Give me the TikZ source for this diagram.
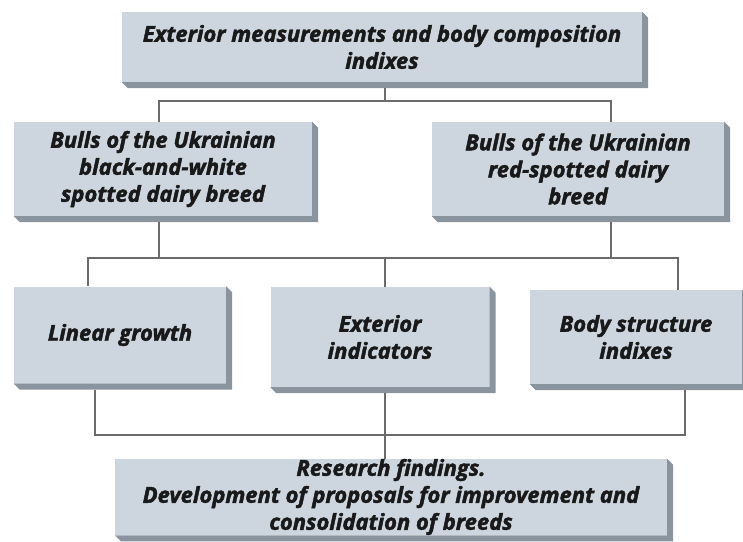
\documentclass[tikz,border=0pt]{standalone}
\usepackage{fontspec}
\setmainfont{Open Sans}[BoldItalicFeatures={FakeBold=2}]
\usetikzlibrary{calc}
\definecolor{boxfill}{HTML}{CDD6DF}
\definecolor{boxedge}{HTML}{8A949E}
\definecolor{connc}{HTML}{6B6B6B}
\begin{document}
\begin{tikzpicture}[x=1pt,y=-1pt,
  bx/.style={fill=boxfill,inner sep=0pt,align=center,text=black!90,font=\fontsize{22}{27}\selectfont\bfseries\itshape},
  conn/.style={draw=connc,line width=2.4pt},
  edgefill/.style={fill=boxedge}]
\useasboundingbox (0,0) rectangle (743,541);
\node[bx,minimum width=520,minimum height=70] (top) at (382,47) {Exterior measurements and body composition\\indixes};
\node[bx,minimum width=298,minimum height=94] (bl) at (163,169) {Bulls of the Ukrainian\\black-and-white\\spotted dairy breed};
\node[bx,minimum width=292,minimum height=94] (br) at (578,169) {Bulls of the Ukrainian\\red-spotted dairy\\breed};
\node[bx,minimum width=212,minimum height=97] (lg) at (120,335) {Linear growth};
\node[bx,minimum width=219,minimum height=100] (ei) at (380,337) {Exterior\\indicators};
\node[bx,minimum width=212,minimum height=94] (bs) at (636,337) {Body structure\\indixes};
\node[bx,minimum width=552,minimum height=70] (rf) at (391,497) {Research findings.\\Development of proposals for improvement and\\consolidation of breeds};
\foreach \n in {top,bl,br,lg,ei,bs,rf}{
  \fill[edgefill] (\n.north east) -- ++(6,6) -- ($(\n.south east)+(6,6)$) -- ($(\n.south west)+(6,6)$) -- (\n.south west) -- (\n.south east) -- cycle;
}
% level 1
\coordinate (j1) at (385,101);
\coordinate (a1) at (159,101);
\coordinate (a2) at (611,101);
\draw[conn] ($(top.south)+(3,6)$) -- (j1);
\draw[conn] (bl.north -| a1) -- (a1) -- (a2) -- (br.north -| a2);
% level 2
\coordinate (k1) at (159,258);
\coordinate (k2) at (611,258);
\coordinate (m1) at (88,258);
\coordinate (m2) at (385,258);
\coordinate (m3) at (678,258);
\draw[conn] ($(bl.south -| k1)+(0,6)$) -- (k1);
\draw[conn] ($(br.south -| k2)+(0,6)$) -- (k2);
\draw[conn] (lg.north -| m1) -- (m1) -- (m3) -- (bs.north -| m3);
\draw[conn] (m2) -- (ei.north -| m2);
% level 3
\coordinate (n1) at (95,435);
\coordinate (n2) at (685,435);
\coordinate (n3) at (385,435);
\draw[conn] ($(lg.south -| n1)+(0,6)$) -- (n1) -- (n2) -- ($(bs.south -| n2)+(0,6)$);
\draw[conn] ($(ei.south -| n3)+(0,6)$) -- (rf.north -| n3);
\end{tikzpicture}
\end{document}
